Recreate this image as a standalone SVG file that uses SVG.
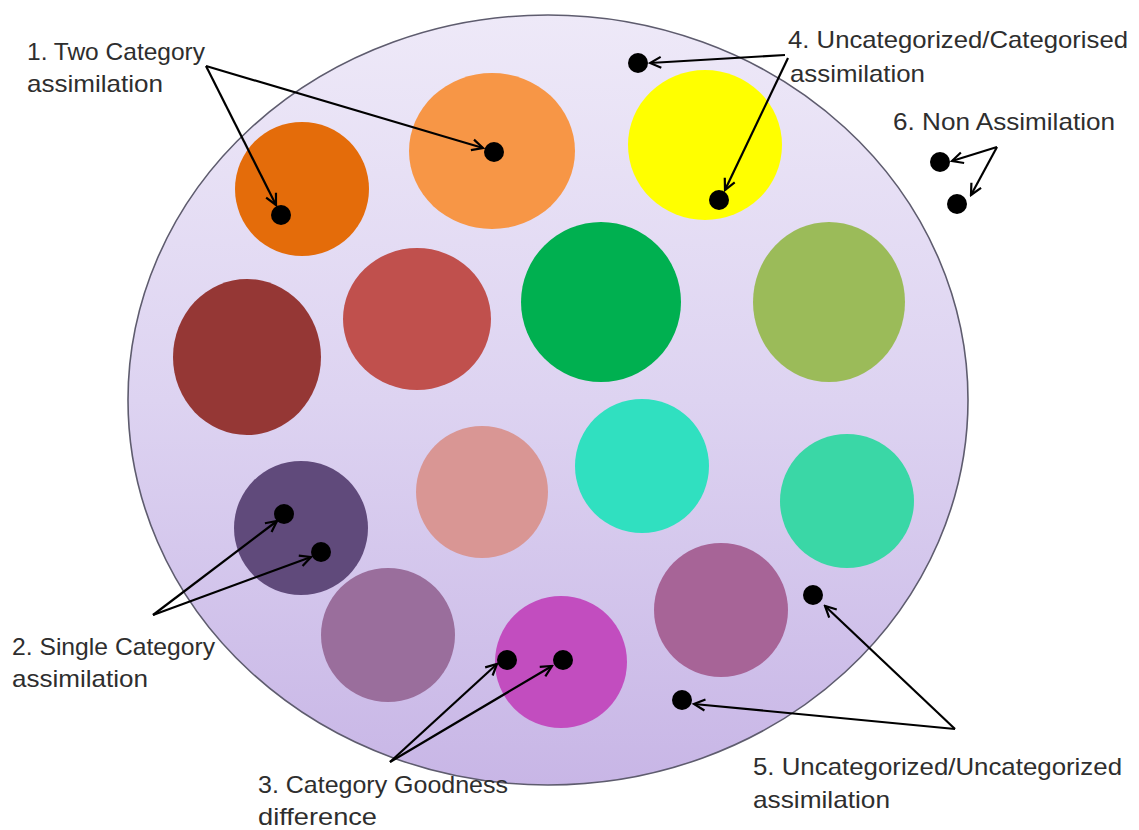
<svg xmlns="http://www.w3.org/2000/svg" width="1139" height="830" viewBox="0 0 1139 830">
  <style>
    .lbl { font-family: "Liberation Sans", Arial, sans-serif; font-size: 24px; fill: #2e2e2e; }
    .conn { stroke: #000; stroke-width: 2.2; fill: none; marker-end: url(#arr); }
    .dot { fill: #000; }
  </style>
  <defs>
    <linearGradient id="bg" x1="0" y1="0" x2="0" y2="1">
      <stop offset="0" stop-color="#eee9f8"/>
      <stop offset="0.5" stop-color="#ddd3f1"/>
      <stop offset="1" stop-color="#c8b6e6"/>
    </linearGradient>
    <marker id="arr" markerUnits="userSpaceOnUse" markerWidth="16" markerHeight="16" viewBox="-14 -8 16 16" refX="0" refY="0" orient="auto">
      <path d="M-11,-5.5 L0,0 L-11,5.5" fill="none" stroke="#000" stroke-width="2.2"/>
    </marker>
  </defs>
  <rect width="1139" height="830" fill="#fff"/>

  <g id="space">
    <ellipse cx="548" cy="400" rx="420" ry="385" fill="url(#bg)" stroke="#5e5c6e" stroke-width="1.6"/>
  </g>

  <g id="categories">
    <ellipse id="c-darkorange" cx="302" cy="189" rx="67" ry="67" fill="#e46c0a"/>
    <ellipse id="c-orange" cx="492" cy="151" rx="83" ry="78" fill="#f79646"/>
    <ellipse id="c-yellow" cx="705" cy="145" rx="77" ry="75" fill="#ffff00"/>
    <ellipse id="c-darkred" cx="247" cy="357" rx="74" ry="78" fill="#953735"/>
    <ellipse id="c-red" cx="417" cy="319" rx="74" ry="71" fill="#c0504d"/>
    <ellipse id="c-green" cx="601" cy="302" rx="80" ry="80" fill="#00b050"/>
    <ellipse id="c-olive" cx="829" cy="302" rx="76" ry="80" fill="#9bbb59"/>
    <ellipse id="c-darkpurple" cx="301" cy="528" rx="67" ry="67" fill="#604a7b"/>
    <ellipse id="c-salmon" cx="482" cy="492" rx="66" ry="66" fill="#d99694"/>
    <ellipse id="c-turquoise" cx="642" cy="466" rx="67" ry="67" fill="#30e0c0"/>
    <ellipse id="c-teal" cx="847" cy="501" rx="67" ry="67" fill="#3ad7a6"/>
    <ellipse id="c-mauve" cx="388" cy="635" rx="67" ry="67" fill="#9a6e9c"/>
    <ellipse id="c-magenta" cx="561" cy="662" rx="66" ry="66" fill="#c24dbf"/>
    <ellipse id="c-mauvepink" cx="721" cy="610" rx="67" ry="67" fill="#a76497"/>
  </g>

  <g id="dots">
    <circle class="dot" cx="281" cy="215" r="10"/>
    <circle class="dot" cx="494" cy="152" r="10"/>
    <circle class="dot" cx="638" cy="63" r="10"/>
    <circle class="dot" cx="719" cy="200" r="10"/>
    <circle class="dot" cx="940" cy="162" r="10"/>
    <circle class="dot" cx="957" cy="204" r="10"/>
    <circle class="dot" cx="284" cy="514" r="10"/>
    <circle class="dot" cx="321" cy="552" r="10"/>
    <circle class="dot" cx="507" cy="660" r="10"/>
    <circle class="dot" cx="563" cy="660" r="10"/>
    <circle class="dot" cx="813" cy="595" r="10"/>
    <circle class="dot" cx="682" cy="700" r="10"/>
  </g>

  <g id="connectors">
    <line class="conn" x1="206" y1="66" x2="276" y2="205"/>
    <line class="conn" x1="206" y1="66" x2="483" y2="148"/>
    <line class="conn" x1="153" y1="615" x2="277" y2="521"/>
    <line class="conn" x1="153" y1="615" x2="311" y2="557"/>
    <line class="conn" x1="390" y1="762" x2="497" y2="664"/>
    <line class="conn" x1="390" y1="762" x2="552" y2="666"/>
    <line class="conn" x1="785" y1="55" x2="650" y2="63"/>
    <line class="conn" x1="788" y1="58" x2="725" y2="190"/>
    <line class="conn" x1="955" y1="729" x2="825" y2="606"/>
    <line class="conn" x1="955" y1="729" x2="694" y2="704"/>
    <line class="conn" x1="997" y1="147" x2="952" y2="161"/>
    <line class="conn" x1="997" y1="147" x2="971" y2="195"/>
  </g>

  <g id="label-1">
    <text class="lbl" x="27" y="60" textLength="178" lengthAdjust="spacingAndGlyphs">1. Two Category</text>
    <text class="lbl" x="27" y="92" textLength="136" lengthAdjust="spacingAndGlyphs">assimilation</text>
  </g>
  <g id="label-2">
    <text class="lbl" x="12" y="655" textLength="203" lengthAdjust="spacingAndGlyphs">2. Single Category</text>
    <text class="lbl" x="12" y="687" textLength="136" lengthAdjust="spacingAndGlyphs">assimilation</text>
  </g>
  <g id="label-3">
    <text class="lbl" x="258" y="793" textLength="250" lengthAdjust="spacingAndGlyphs">3. Category Goodness</text>
    <text class="lbl" x="258" y="825" textLength="119" lengthAdjust="spacingAndGlyphs">difference</text>
  </g>
  <g id="label-4">
    <text class="lbl" x="788" y="48" textLength="340" lengthAdjust="spacingAndGlyphs">4. Uncategorized/Categorised</text>
    <text class="lbl" x="790" y="82" textLength="135" lengthAdjust="spacingAndGlyphs">assimilation</text>
  </g>
  <g id="label-5">
    <text class="lbl" x="753" y="775" textLength="369" lengthAdjust="spacingAndGlyphs">5. Uncategorized/Uncategorized</text>
    <text class="lbl" x="753" y="808" textLength="137" lengthAdjust="spacingAndGlyphs">assimilation</text>
  </g>
  <g id="label-6">
    <text class="lbl" x="893" y="130" textLength="222" lengthAdjust="spacingAndGlyphs">6. Non Assimilation</text>
  </g>
</svg>
